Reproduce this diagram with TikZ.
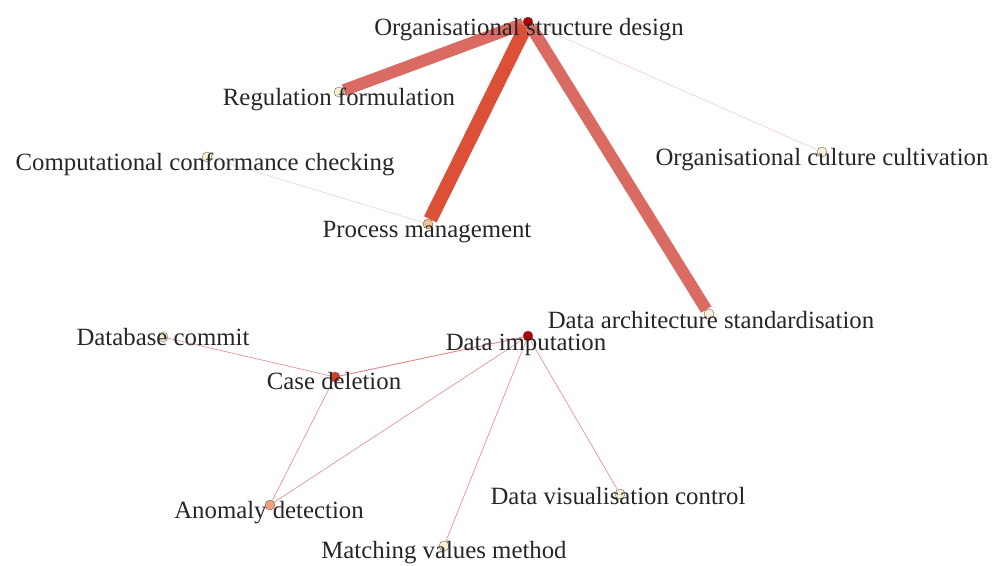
\documentclass[tikz,border=0pt]{standalone}
\usepackage{fontspec}
\setmainfont{Liberation Serif}
\usepackage{tikz}
\usetikzlibrary{backgrounds}

\definecolor{hubred}{HTML}{B00000}
\definecolor{midred}{HTML}{D83A2A}
\definecolor{peach}{HTML}{F0A07A}
\definecolor{apricot}{HTML}{F5C08A}
\definecolor{cream}{HTML}{F7EFD2}
\definecolor{bandrose}{HTML}{D96B63}
\definecolor{bandred}{HTML}{DD5038}
\definecolor{linkred}{HTML}{E08888}
\definecolor{linkpale}{HTML}{EFC8C0}

\begin{document}
\begin{tikzpicture}[x=1pt, y=-1pt,
        dot/.style={circle, draw=black!60, line width=0.4pt, inner sep=0pt, minimum size=10pt},
        lbl/.style={anchor=base, inner sep=0pt, font=\fontsize{24.8}{28}\selectfont, text=black!85},
        thin link/.style={draw=linkred, line width=0.6pt},
        faint link/.style={draw=linkpale, line width=0.5pt}]
    \useasboundingbox (0,0) rectangle (1000,565);

    \node[dot, fill=hubred]  (osd) at (528,22)  {};
    \node[dot, fill=cream]   (rf)  at (339,92)  {};
    \node[dot, fill=cream]   (ccc) at (207,157) {};
    \node[dot, fill=apricot] (pm)  at (428,224) {};
    \node[dot, fill=cream]   (occ) at (822,152) {};
    \node[dot, fill=cream]   (das) at (709,314) {};
    \node[dot, fill=hubred]  (di)  at (528,336) {};
    \node[dot, fill=cream]   (dbc) at (163,337) {};
    \node[dot, fill=midred]  (cd)  at (335,377) {};
    \node[dot, fill=peach]   (ad)  at (270,505) {};
    \node[dot, fill=cream]   (mvm) at (444,546) {};
    \node[dot, fill=cream]   (dvc) at (620,494) {};

    \node[lbl] (osd-l) at (529,35)  {Organisational structure design};
    \node[lbl] (rf-l)  at (339,105) {Regulation formulation};
    \node[lbl] (ccc-l) at (205,170) {Computational conformance checking};
    \node[lbl] (pm-l)  at (427,237) {Process management};
    \node[lbl] (occ-l) at (822,165) {Organisational culture cultivation};
    \node[lbl] (das-l) at (711,328) {Data architecture standardisation};
    \node[lbl] (di-l)  at (526,350) {Data imputation};
    \node[lbl] (dbc-l) at (163,345) {Database commit};
    \node[lbl] (cd-l)  at (334,389) {Case deletion};
    \node[lbl] (ad-l)  at (269,518) {Anomaly detection};
    \node[lbl] (mvm-l) at (444,558) {Matching values method};
    \node[lbl] (dvc-l) at (618,504) {Data visualisation control};

    \begin{pgfonlayer}{background}
        \draw[draw=bandrose, line width=12pt] (osd) -- (rf);
        \draw[draw=bandred, line width=14pt] (osd) -- (pm);
        \draw[draw=bandrose, line width=12pt] (osd) -- (das);
        \draw[faint link] (osd) -- (occ);
        \draw[faint link] (ccc) -- (pm);
        \draw[thin link] (dbc) -- (cd);
        \draw[thin link, line width=0.9pt] (cd) -- (di);
        \draw[thin link] (cd) -- (ad);
        \draw[thin link] (di) -- (ad);
        \draw[thin link] (di) -- (mvm);
        \draw[thin link] (di) -- (dvc);
    \end{pgfonlayer}
\end{tikzpicture}
\end{document}
